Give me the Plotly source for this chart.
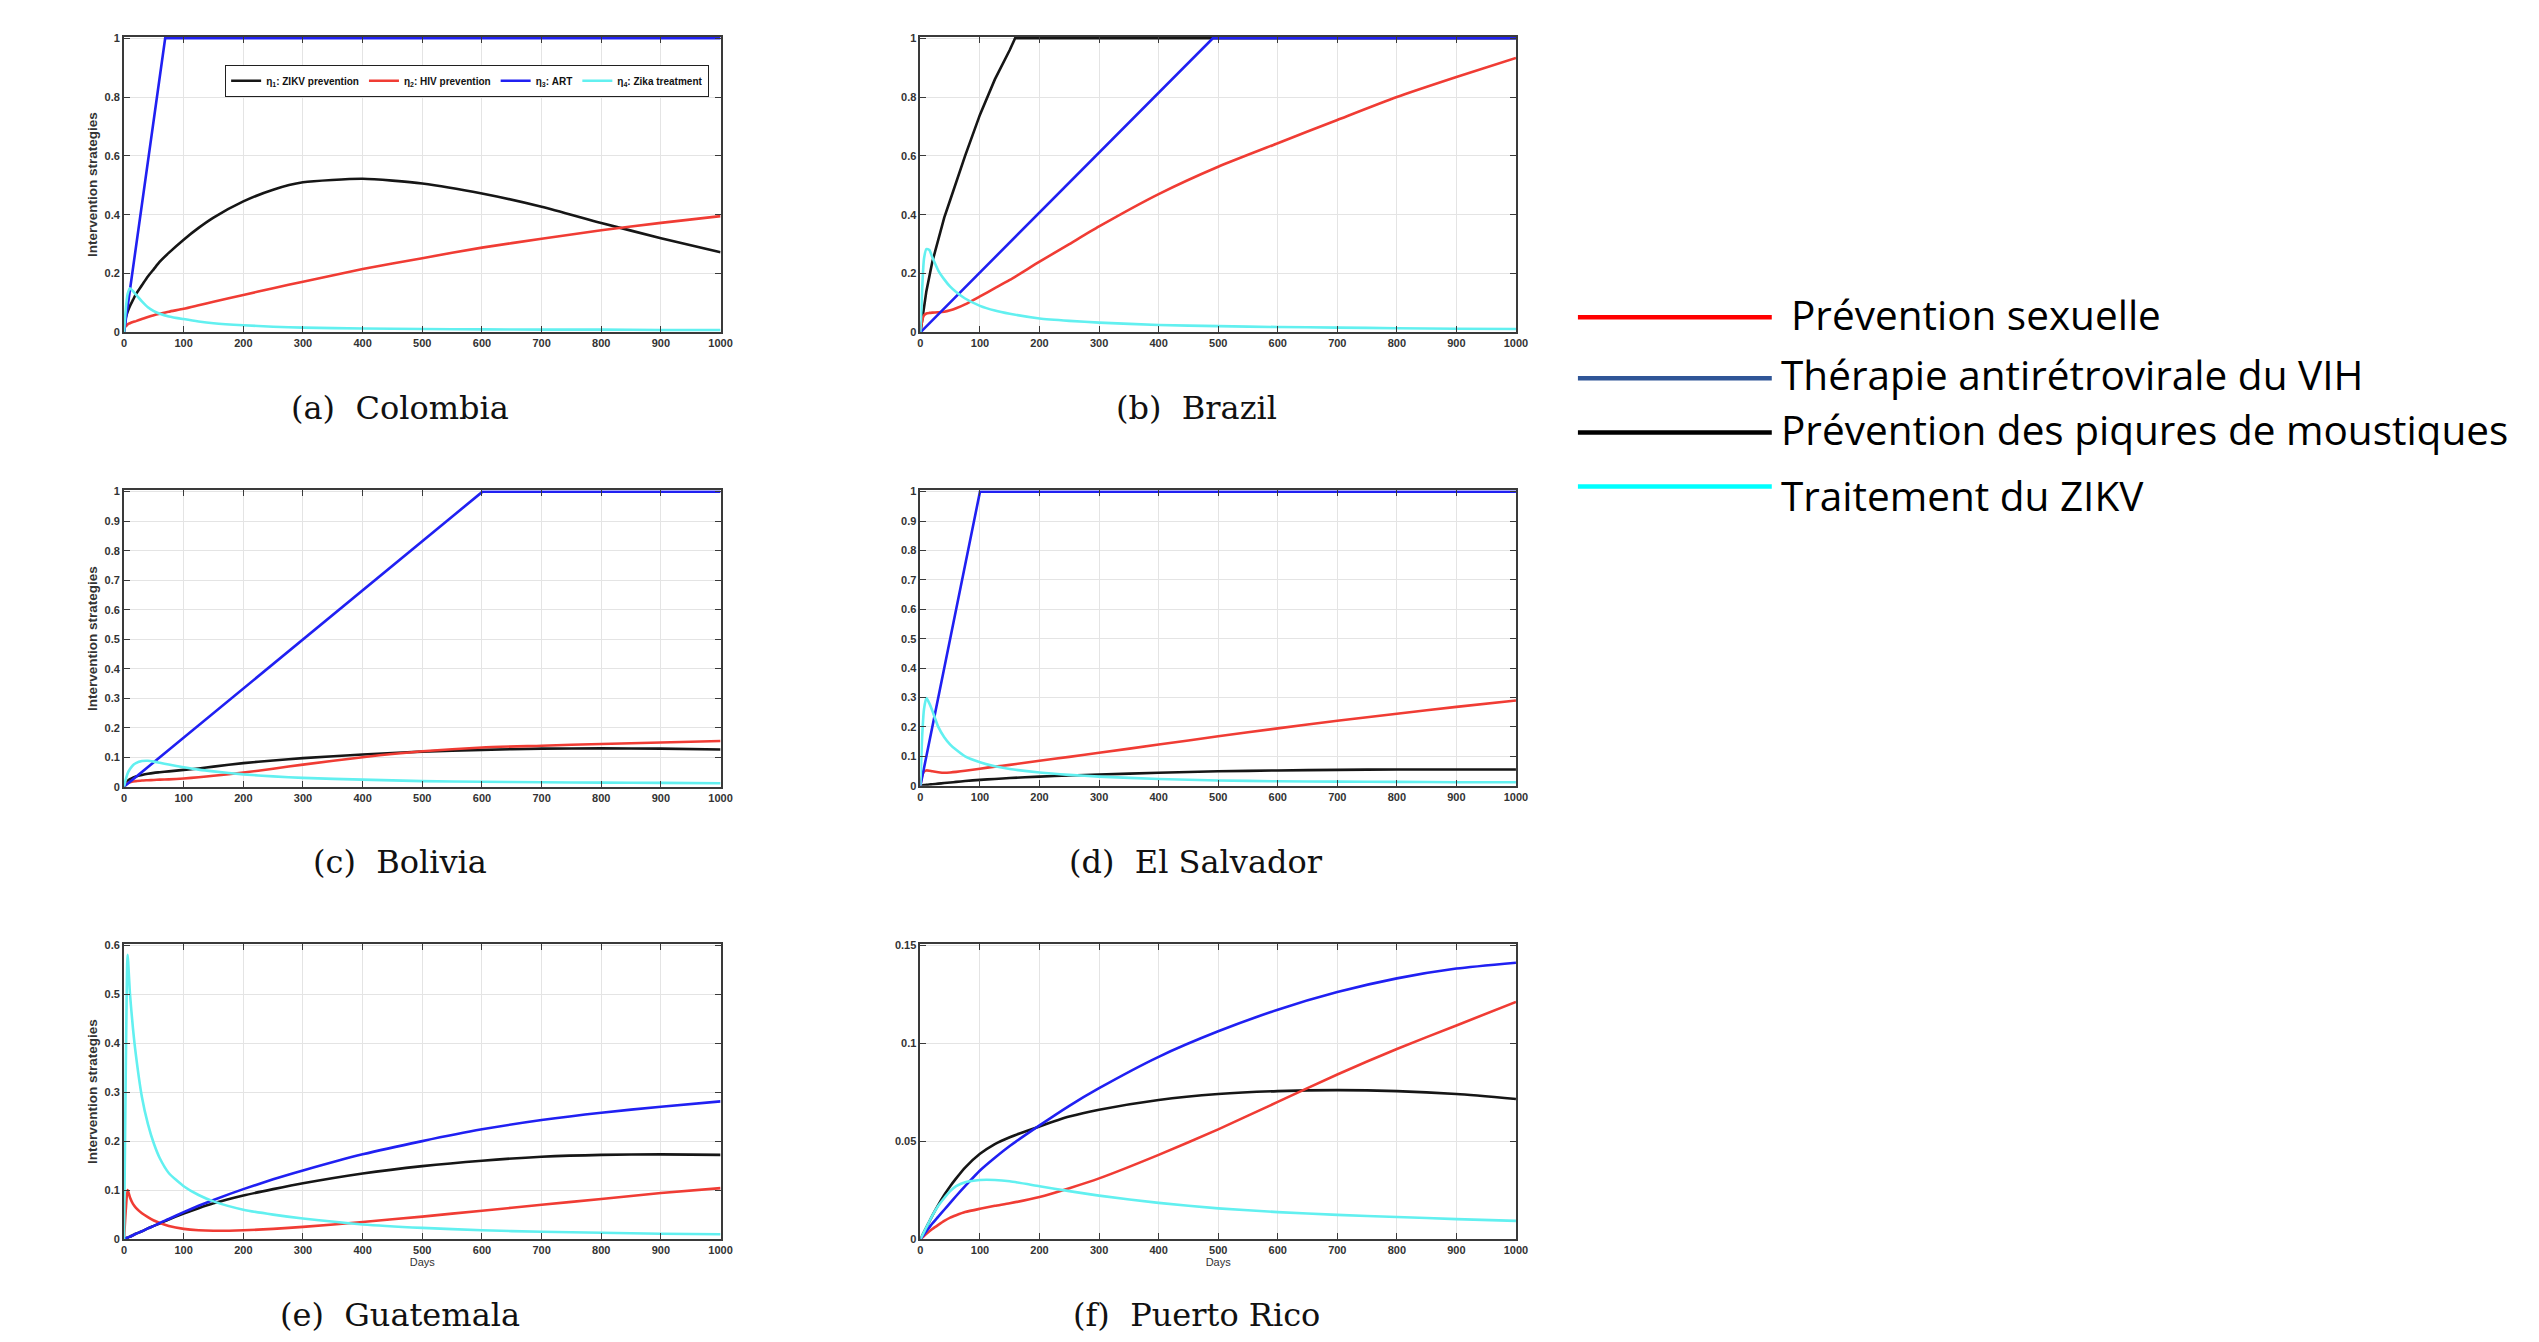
import plotly.graph_objects as go

# ---------------- data ----------------
DAYS = [0, 3, 6, 10, 15, 20, 30, 40, 50, 60, 75, 100, 125, 150, 200, 250, 300, 400, 500, 600, 700, 800, 900, 1000]
X_TICKS = [0, 100, 200, 300, 400, 500, 600, 700, 800, 900, 1000]

SERIES_NAMES = ["η<sub>1</sub>: ZIKV prevention", "η<sub>2</sub>: HIV prevention",
                "η<sub>3</sub>: ART", "η<sub>4</sub>: Zika treatment"]
CAPTIONS = ["(a)&nbsp;&nbsp;Colombia", "(b)&nbsp;&nbsp;Brazil", "(c)&nbsp;&nbsp;Bolivia",
            "(d)&nbsp;&nbsp;El Salvador", "(e)&nbsp;&nbsp;Guatemala", "(f)&nbsp;&nbsp;Puerto Rico"]
LEGEND_LABELS = ["Prévention sexuelle", "Thérapie antirétrovirale du VIH",
                 "Prévention des piqures de moustiques", "Traitement du ZIKV"]

# (a) Colombia
COL_ZIKV = [0, 0.05, 0.07, 0.09, 0.11, 0.13, 0.16, 0.19, 0.215, 0.24, 0.27, 0.315, 0.355, 0.39, 0.445, 0.485, 0.51, 0.522, 0.506, 0.472, 0.427, 0.372, 0.32, 0.272]
COL_HIV = [0.015, 0.02, 0.027, 0.031, 0.035, 0.038, 0.045, 0.052, 0.058, 0.063, 0.07, 0.08, 0.092, 0.104, 0.127, 0.15, 0.172, 0.215, 0.252, 0.288, 0.318, 0.347, 0.372, 0.395]
COL_ART_DAYS = [0, 69, 1000]
COL_ART = [0, 1, 1]
COL_TREAT = [0, 0.08, 0.13, 0.15, 0.14, 0.128, 0.105, 0.085, 0.072, 0.063, 0.054, 0.045, 0.037, 0.031, 0.024, 0.019, 0.016, 0.013, 0.011, 0.01, 0.009, 0.009, 0.008, 0.008]

# (b) Brazil
BRA_ZIKV_DAYS = [0, 5, 10, 20, 30, 40, 50, 75, 100, 125, 150, 159, 1000]
BRA_ZIKV = [0, 0.08, 0.14, 0.24, 0.32, 0.39, 0.45, 0.6, 0.74, 0.86, 0.96, 1, 1]
BRA_HIV = [0, 0.04, 0.058, 0.064, 0.066, 0.067, 0.068, 0.07, 0.075, 0.082, 0.095, 0.122, 0.15, 0.178, 0.24, 0.3, 0.36, 0.47, 0.563, 0.643, 0.722, 0.8, 0.868, 0.933]
BRA_ART_DAYS = [0, 491, 1000]
BRA_ART = [0, 1, 1]
BRA_TREAT = [0, 0.15, 0.25, 0.283, 0.28, 0.255, 0.21, 0.18, 0.155, 0.137, 0.115, 0.09, 0.074, 0.063, 0.047, 0.039, 0.033, 0.025, 0.021, 0.018, 0.016, 0.014, 0.012, 0.011]

# (c) Bolivia
BOL_ZIKV = [0, 0.012, 0.02, 0.026, 0.031, 0.035, 0.04, 0.044, 0.047, 0.049, 0.052, 0.057, 0.062, 0.068, 0.08, 0.089, 0.097, 0.109, 0.119, 0.125, 0.129, 0.13, 0.129, 0.126]
BOL_HIV = [0, 0.007, 0.012, 0.015, 0.018, 0.019, 0.021, 0.022, 0.023, 0.024, 0.025, 0.028, 0.032, 0.037, 0.048, 0.061, 0.075, 0.1, 0.12, 0.133, 0.139, 0.145, 0.15, 0.155]
BOL_ART_DAYS = [0, 601, 1000]
BOL_ART = [0, 1, 1]
BOL_TREAT = [0, 0.025, 0.045, 0.06, 0.073, 0.08, 0.087, 0.088, 0.085, 0.081, 0.075, 0.066, 0.058, 0.052, 0.042, 0.035, 0.03, 0.024, 0.019, 0.017, 0.015, 0.014, 0.013, 0.012]

# (d) El Salvador
SLV_ZIKV = [0, 0.001, 0.002, 0.003, 0.004, 0.005, 0.007, 0.009, 0.011, 0.013, 0.016, 0.02, 0.023, 0.026, 0.031, 0.035, 0.038, 0.044, 0.049, 0.052, 0.054, 0.055, 0.055, 0.055]
SLV_HIV = [0, 0.035, 0.048, 0.052, 0.051, 0.049, 0.046, 0.044, 0.045, 0.047, 0.051, 0.058, 0.065, 0.071, 0.085, 0.098, 0.112, 0.14, 0.168, 0.195, 0.221, 0.245, 0.268, 0.29]
SLV_ART_DAYS = [0, 100, 1000]
SLV_ART = [0, 1, 1]
SLV_TREAT = [0, 0.17, 0.26, 0.298, 0.28, 0.255, 0.2, 0.165, 0.14, 0.122, 0.1, 0.08, 0.066, 0.057, 0.045, 0.037, 0.031, 0.023, 0.018, 0.015, 0.014, 0.013, 0.012, 0.012]

# (e) Guatemala
GTM_ZIKV = [0, 0.002, 0.003, 0.005, 0.008, 0.011, 0.016, 0.022, 0.027, 0.032, 0.04, 0.052, 0.063, 0.073, 0.089, 0.102, 0.114, 0.134, 0.149, 0.16, 0.168, 0.172, 0.173, 0.172]
GTM_HIV = [0, 0.06, 0.1, 0.085, 0.072, 0.064, 0.053, 0.045, 0.038, 0.033, 0.027, 0.021, 0.018, 0.017, 0.018, 0.021, 0.025, 0.035, 0.046, 0.058, 0.07, 0.082, 0.094, 0.104]
GTM_ART = [0, 0.002, 0.003, 0.005, 0.008, 0.011, 0.016, 0.022, 0.027, 0.033, 0.041, 0.055, 0.068, 0.08, 0.102, 0.122, 0.14, 0.173, 0.2, 0.224, 0.243, 0.258, 0.27, 0.281]
GTM_TREAT = [0, 0.35, 0.58, 0.5, 0.43, 0.375, 0.29, 0.235, 0.195, 0.165, 0.135, 0.108, 0.09, 0.077, 0.06, 0.05, 0.042, 0.03, 0.023, 0.018, 0.015, 0.013, 0.011, 0.01]

# (f) Puerto Rico
PRI_ZIKV = [0, 0.0018, 0.0036, 0.006, 0.009, 0.012, 0.0175, 0.0225, 0.027, 0.031, 0.0365, 0.0435, 0.0485, 0.052, 0.0575, 0.0625, 0.066, 0.071, 0.074, 0.0755, 0.076, 0.0755, 0.074, 0.0715]
PRI_HIV = [0, 0.0008, 0.0016, 0.0027, 0.004, 0.0052, 0.0073, 0.0093, 0.011, 0.0122, 0.0138, 0.0155, 0.017, 0.0183, 0.0215, 0.026, 0.031, 0.043, 0.056, 0.07, 0.084, 0.097, 0.109, 0.121]
PRI_ART = [0, 0.0012, 0.0024, 0.004, 0.006, 0.008, 0.0115, 0.015, 0.0185, 0.022, 0.027, 0.035, 0.0415, 0.0475, 0.058, 0.068, 0.077, 0.093, 0.106, 0.117, 0.126, 0.133, 0.138, 0.141]
PRI_TREAT = [0, 0.0018, 0.0036, 0.006, 0.009, 0.012, 0.017, 0.021, 0.0245, 0.027, 0.029, 0.0302, 0.0302, 0.0295, 0.027, 0.0245, 0.0222, 0.0185, 0.0157, 0.0138, 0.0124, 0.0113, 0.0102, 0.0093]

# y-axis settings per panel: (max, tick step)
Y_RANGES = [(1, 0.2), (1, 0.2), (1, 0.1), (1, 0.1), (0.6, 0.1), (0.15, 0.05)]

# ---------------- styling ----------------
PAGE_W, PAGE_H = 2539, 1342
BODY = 8                       # default body margin of the html page
FW, FH = PAGE_W - 2 * BODY, PAGE_H - 2 * BODY
# small empirical correction between layout pixels and the captured picture
SX, OX = 0.9948, 10.9
SY, OY = 0.9908, 13.98


def px(x):
    return ((x - OX) / SX) / FW


def py(y):
    return 1 - ((y - OY) / SY) / FH


COLORS = ["#161616", "#f03c34", "#2020f2", "#62f0f0"]
LEG_COLORS = ["#ff0000", "#2f5597", "#000000", "#00ffff"]
SANS = "Liberation Sans, Arial, Helvetica, sans-serif"
TICK_FONT = dict(family=SANS, size=11, color="#333333", weight="bold")

# panel pixel boxes in the target picture: (left, right, top, bottom)
BOXES = [(124, 721, 38, 333), (921, 1517, 38, 333),
         (124, 721, 491, 787), (921, 1517, 491, 786),
         (124, 721, 944, 1239), (921, 1517, 944, 1239)]
CAPTION_POS = [(400, 409), (1197, 409), (400, 862), (1197, 862), (400, 1315), (1197, 1315)]

panels = [
    [(DAYS, COL_ZIKV), (DAYS, COL_HIV), (COL_ART_DAYS, COL_ART), (DAYS, COL_TREAT)],
    [(BRA_ZIKV_DAYS, BRA_ZIKV), (DAYS, BRA_HIV), (BRA_ART_DAYS, BRA_ART), (DAYS, BRA_TREAT)],
    [(DAYS, BOL_ZIKV), (DAYS, BOL_HIV), (BOL_ART_DAYS, BOL_ART), (DAYS, BOL_TREAT)],
    [(DAYS, SLV_ZIKV), (DAYS, SLV_HIV), (SLV_ART_DAYS, SLV_ART), (DAYS, SLV_TREAT)],
    [(DAYS, GTM_ZIKV), (DAYS, GTM_HIV), (DAYS, GTM_ART), (DAYS, GTM_TREAT)],
    [(DAYS, PRI_ZIKV), (DAYS, PRI_HIV), (DAYS, PRI_ART), (DAYS, PRI_TREAT)],
]

fig = go.Figure()
layout = dict(
    width=FW, height=FH, margin=dict(l=0, r=0, t=0, b=0),
    paper_bgcolor="white", plot_bgcolor="white",
    showlegend=True,
    legend=dict(
        orientation="h", x=px(225), y=py(66), xanchor="left", yanchor="top",
        bgcolor="white", bordercolor="#202020", borderwidth=1.2,
        font=dict(family=SANS, size=10, color="#111111", weight="bold"),
        itemwidth=30, tracegroupgap=0,
    ),
)

for p, series in enumerate(panels):
    ax = "" if p == 0 else str(p + 1)
    for s, (xs, ys) in enumerate(series):
        kinked = len(xs) != len(DAYS)
        fig.add_trace(go.Scatter(
            x=xs, y=ys, mode="lines", name=SERIES_NAMES[s],
            line=dict(color=COLORS[s], width=2.6,
                      shape="linear" if kinked else "spline", smoothing=0.6),
            showlegend=(p == 0), xaxis="x" + ax, yaxis="y" + ax,
        ))
    l, r, t, b = BOXES[p]
    ymax, ystep = Y_RANGES[p]
    common = dict(showline=True, linecolor="#3a3a3a", linewidth=1.8, mirror="ticks",
                  ticks="inside", ticklen=6, tickcolor="#3a3a3a", tickwidth=1.4,
                  showgrid=True, gridcolor="#e4e4e4", gridwidth=1.4, zeroline=False,
                  tickfont=TICK_FONT)
    layout["xaxis" + ax] = dict(
        domain=[px(l), px(r)], anchor="y" + ax, range=[0, 1000],
        tickvals=X_TICKS,
        title=dict(text="Days" if p >= 4 else "", font=dict(family=SANS, size=11, color="#333333"), standoff=3),
        **common)
    layout["yaxis" + ax] = dict(
        domain=[py(b), py(t)], anchor="x" + ax, range=[0, ymax * 1.004], dtick=ystep, tick0=0,
        title=dict(text="Intervention strategies" if p % 2 == 0 else "",
                   font=dict(family=SANS, size=13.5, color="#333333", weight="bold"),
                   standoff=4),
        **common)

annotations = []
for p, cap in enumerate(CAPTIONS):
    cx, cy = CAPTION_POS[p]
    annotations.append(dict(text=cap, x=px(cx), y=py(cy), xref="paper", yref="paper",
                            xanchor="center", yanchor="middle", showarrow=False,
                            font=dict(family="DejaVu Serif, serif", size=32, color="#111111")))

# external French legend
LEG_LINE_Y = [318, 379, 433, 487]
LEG_TEXT_POS = [(1790, 315), (1780, 375), (1780, 430), (1780, 496)]
shapes = []
for i, lab in enumerate(LEGEND_LABELS):
    yy = py(LEG_LINE_Y[i])
    shapes.append(dict(type="line", xref="paper", yref="paper", x0=px(1579), x1=px(1773), y0=yy, y1=yy,
                       line=dict(color=LEG_COLORS[i], width=4.5)))
    tx, ty = LEG_TEXT_POS[i]
    annotations.append(dict(text=lab, x=px(tx), y=py(ty), xref="paper", yref="paper",
                            xanchor="left", yanchor="middle", showarrow=False,
                            font=dict(family="Open Sans, Lato, sans-serif", size=40.5, color="#000000")))

layout["annotations"] = annotations
layout["shapes"] = shapes
fig.update_layout(**layout)
fig.write_html("out.html")
